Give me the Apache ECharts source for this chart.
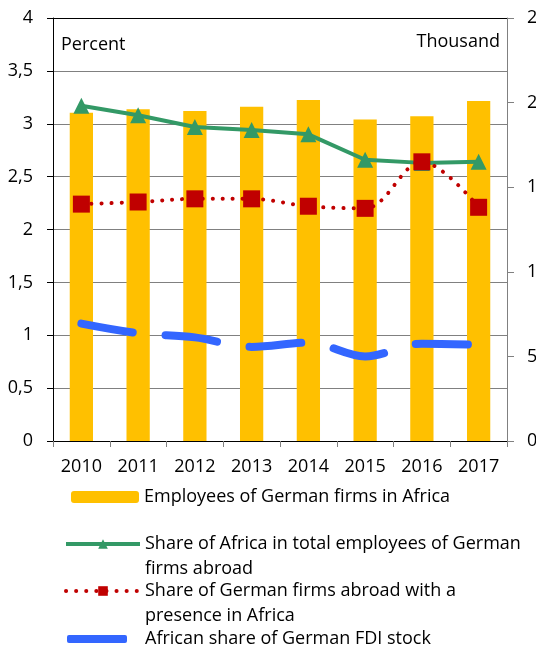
<!DOCTYPE html>
<html>
<head>
<meta charset="utf-8">
<script src="https://cdn.jsdelivr.net/npm/echarts@6/dist/echarts.min.js"></script>
<style>
  html, body { margin: 0; padding: 0; background: #fff; }
  #chart { width: 536px; height: 648px; }
</style>
</head>
<body>
<div id="chart"></div>
<script>
// data
let years = ['2010', '2011', '2012', '2013', '2014', '2015', '2016', '2017'];
let employees = [194, 196, 195, 197.5, 201.5, 190, 192, 201];          // thousand, right axis
let shareEmployees = [3.17, 3.08, 2.97, 2.94, 2.90, 2.66, 2.63, 2.64];  // percent
let shareFirms = [2.24, 2.26, 2.29, 2.29, 2.22, 2.20, 2.64, 2.21];      // percent
let shareFDI = [1.11, 1.02, 0.98, 0.89, 0.93, 0.80, 0.92, 0.91];        // percent

let names = [
  'Employees of German firms in Africa',
  'Share of Africa in total employees of German',
  'Share of German firms abroad with a',
  'African share of German FDI stock'
];

let font = 'Open Sans';
let txtFont = '18px "Open Sans"';
let chart = echarts.init(document.getElementById('chart'));

function legendAt(name, left, top, extra) {
  return Object.assign({
    data: [name],
    left: left,
    top: top,
    padding: 0,
    itemWidth: 68,
    itemHeight: 12,
    itemGap: 0,
    selectedMode: false,
    textStyle: { fontFamily: font, fontSize: 18, color: '#000' }
  }, extra || {});
}

let option = {
  animation: false,
  grid: { left: 53, right: 29, top: 18, bottom: 207, outerBoundsMode: 'none' },
  legend: [
    legendAt(names[0], 71, 488),
    legendAt(names[1], 64, 535, { itemWidth: 74, lineStyle: { width: 4 } }),
    legendAt(names[2], 64, 582, { itemWidth: 74, lineStyle: { width: 4 } }),
    legendAt(names[3], 67, 630, {
      data: [{ name: names[3], icon: 'roundRect' }],
      itemWidth: 60,
      itemHeight: 8,
      textStyle: { fontFamily: font, fontSize: 18, color: '#000', padding: [0, 0, 0, 13] }
    })
  ],
  graphic: [
    { type: 'text', left: 61, top: 36, style: { text: 'Percent', font: txtFont, fill: '#000' } },
    { type: 'text', right: 36, top: 33, style: { text: 'Thousand', font: txtFont, fill: '#000' } },
    { type: 'text', left: 145, top: 560, style: { text: 'firms abroad', font: txtFont, fill: '#000' } },
    { type: 'text', left: 145, top: 607, style: { text: 'presence in Africa', font: txtFont, fill: '#000' } }
  ],
  xAxis: {
    type: 'category',
    data: years,
    boundaryGap: true,
    axisLine: { lineStyle: { color: '#000', width: 1 } },
    axisTick: { show: true, length: 6, lineStyle: { color: '#808080' } },
    axisLabel: { fontFamily: font, fontSize: 18, color: '#000', margin: 17, interval: 0 }
  },
  yAxis: [
    {
      type: 'value',
      min: 0,
      max: 4,
      interval: 0.5,
      axisLine: { show: true, lineStyle: { color: '#000' } },
      axisTick: { show: true, inside: false, length: 6, lineStyle: { color: '#000' } },
      axisLabel: {
        fontFamily: font, fontSize: 18, color: '#000', margin: 20,
        formatter: v => String(v).replace('.', ',')
      },
      splitLine: {
        show: true,
        lineStyle: { color: ['#000', '#808080', '#808080', '#808080', '#808080', '#808080', '#808080', '#808080', '#000'], width: 1 }
      }
    },
    {
      type: 'value',
      min: 0,
      max: 250,
      interval: 50,
      position: 'right',
      axisLine: { show: true, lineStyle: { color: '#808080' } },
      axisTick: { show: true, inside: false, length: 7, lineStyle: { color: '#808080' } },
      axisLabel: { fontFamily: font, fontSize: 18, color: '#000', margin: 20 },
      splitLine: { show: false }
    }
  ],
  series: [
    {
      name: names[0],
      type: 'bar',
      yAxisIndex: 1,
      data: employees,
      barWidth: '41%',
      itemStyle: { color: '#FFC000' },
      z: 1
    },
    {
      name: names[1],
      type: 'line',
      data: shareEmployees,
      symbol: 'triangle',
      symbolSize: 16,
      itemStyle: { color: '#339966' },
      lineStyle: { color: '#339966', width: 4 },
      z: 3
    },
    {
      name: names[2],
      type: 'line',
      data: shareFirms,
      smooth: 0.35,
      symbol: 'rect',
      symbolSize: 17,
      itemStyle: { color: '#C00000' },
      lineStyle: { color: '#C00000', width: 4, type: [0.1, 10], cap: 'round' },
      z: 4
    },
    {
      name: names[3],
      type: 'line',
      data: shareFDI,
      smooth: 0.35,
      showSymbol: false,
      symbol: 'none',
      itemStyle: { color: '#3366FF' },
      lineStyle: { color: '#3366FF', width: 8, type: [52, 33], cap: 'round' },
      z: 5
    }
  ]
};
chart.setOption(option);
</script>
</body>
</html>
